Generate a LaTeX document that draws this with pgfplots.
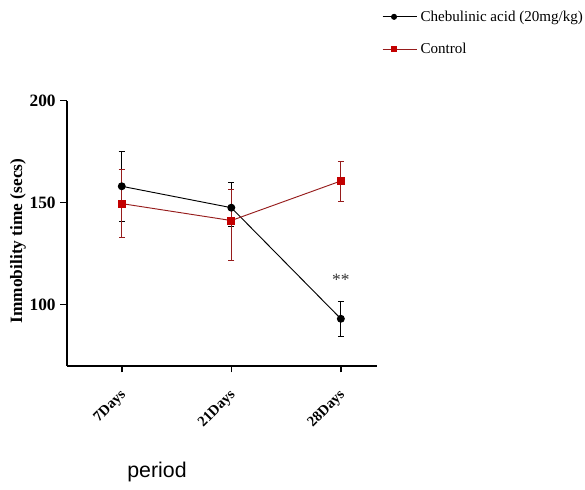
\documentclass[border=0pt]{standalone}
\usepackage{pgfplots}
\pgfplotsset{compat=1.18}
\usepackage{fontspec}
\setmainfont{Liberation Serif}
\newfontfamily\arial{Liberation Sans}
\definecolor{redline}{RGB}{150,28,28}
\definecolor{redmark}{RGB}{195,0,0}
\begin{document}
\begin{tikzpicture}
\path[use as bounding box] (0,0) rectangle (438.75pt,366.75pt);
\begin{axis}[
  at={(50.25pt,92.5pt)}, anchor=south west,
  scale only axis, width=232.5pt, height=198.75pt,
  axis lines=left, axis line style={line width=1.5pt,-},
  xmin=-0.5, xmax=2.33, ymin=70, ymax=200,
  xtick={0,1,2}, xticklabels={7Days,21Days,28Days},
  ytick={100,150,200},
  tick style={line width=1.2pt,black},
  major tick length=5pt,
  tick align=outside,
  /pgf/number format/assume math mode=true,
  yticklabel style={font=\fontsize{13}{15}\selectfont\bfseries},
  xticklabel style={font=\fontsize{11}{12}\selectfont\bfseries, xshift=4pt, yshift=-13pt, rotate=45, anchor=east},
  legend style={at={(1.003,1.361)}, anchor=north west, draw=none, fill=none,
    font=\fontsize{11.3}{13}\selectfont, row sep=11pt},
  legend cell align=left,
  legend image code/.code={%
    \draw[mark repeat=2,mark phase=2,#1] plot coordinates {(0cm,0cm) (0.3cm,0cm) (0.6cm,0cm)};
    \path (0.6cm,0cm) -- (0.6cm+9pt,0cm);},
  legend image post style={mark size=1.9pt},
  clip=false,
]
\addplot[black, line width=0.7pt, mark=*, mark size=2.6pt,
  error bars/.cd, y dir=both, y explicit,
  error bar style={line width=0.6pt, black},
  error mark options={rotate=90, mark size=2.3pt, line width=0.6pt, black}]
  coordinates {(0,158) +- (0,17) (1,147.5) += (0,12.5) -= (0,9) (2,93) +- (0,8.5)};
\addlegendentry{Chebulinic acid (20mg/kg)}
\addplot[redline, line width=0.7pt, mark=square*, mark size=2.6pt,
  mark options={fill=redmark, draw=redmark},
  error bars/.cd, y dir=both, y explicit,
  error bar style={line width=0.6pt, redline},
  error mark options={rotate=90, mark size=2.3pt, line width=0.6pt, redline}]
  coordinates {(0,149.5) +- (0,16.7) (1,141.2) += (0,15.5) -= (0,19.8) (2,160.6) +- (0,9.8)};
\addlegendentry{Control}
\node[font=\fontsize{13}{15}\selectfont, text=black!80] at (axis cs:2,112) {**};
\end{axis}
\node[rotate=90, font=\fontsize{13}{15}\selectfont\bfseries] at (13.5pt,186pt) {Immobility time (secs)};
\node[font=\arial\fontsize{16}{18}\selectfont] at (117.75pt,13pt) {period};
\end{tikzpicture}
\end{document}
